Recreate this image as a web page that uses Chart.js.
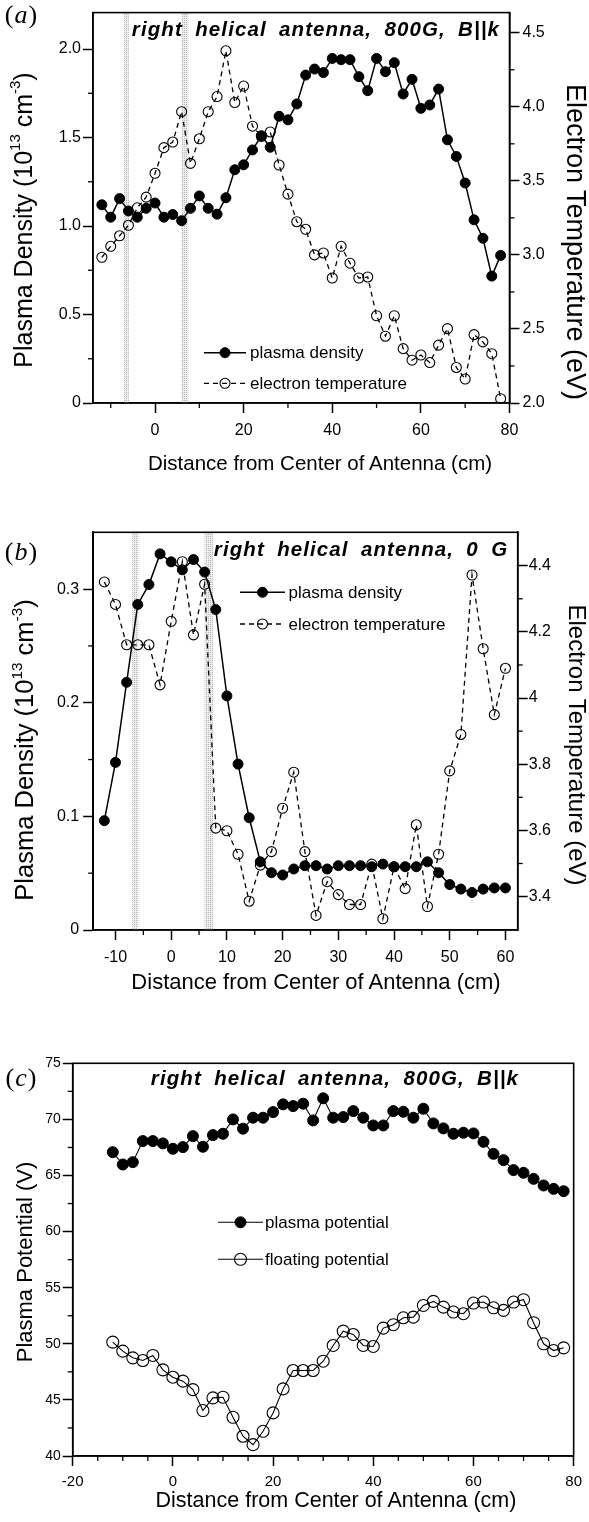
<!DOCTYPE html>
<html>
<head>
<meta charset="utf-8">
<script src="https://cdn.jsdelivr.net/npm/chart.js@4.4.1/dist/chart.umd.min.js"></script>
<style>
  html, body { margin: 0; padding: 0; background: #fff; }
  #page { position: relative; width: 589px; height: 1522px; overflow: hidden;
          font-family: "Liberation Sans", Arial, sans-serif; color: #000; }
  .panel { position: absolute; left: 0; width: 589px; }
  .txt { position: absolute; white-space: nowrap; line-height: 1; z-index: 2;
         transform: translate(-50%, -50%); }
  .rotl { transform: translate(-50%, -50%) rotate(-90deg); }
  .rotr { transform: translate(-50%, -50%) rotate(90deg); }
  .tag { font-family: "Liberation Serif", serif; font-size: 26px; letter-spacing: 1px; }
  .head { font-weight: bold; font-style: italic; font-size: 20.5px;
          letter-spacing: 1.1px; word-spacing: 5.5px; }
  sup { font-size: 0.6em; vertical-align: 0.75em; line-height: 0; }
</style>
</head>
<body>
<div id="page">
  <div class="panel" style="top:0;height:480px"><canvas id="chartA" width="589" height="480"></canvas></div>
  <div class="panel" style="top:500px;height:510px"><canvas id="chartB" width="589" height="510"></canvas></div>
  <div class="panel" style="top:1010px;height:512px"><canvas id="chartC" width="589" height="512"></canvas></div>

  <!-- panel (a) texts -->
  <div class="txt tag" style="left:21.5px;top:15px">(<i>a</i>)</div>
  <div class="txt head" style="left:316px;top:29px">right  helical  antenna,  800G,  B||k</div>
  <div class="txt rotl" style="left:22.5px;top:220px;font-size:25px">Plasma Density (10<sup>13</sup> cm<sup>-3</sup>)</div>
  <div class="txt rotr" style="left:575px;top:242px;font-size:27px">Electron Temperature (eV)</div>
  <div class="txt" style="left:320px;top:463px;font-size:20.5px">Distance from Center of Antenna (cm)</div>

  <!-- panel (b) texts -->
  <div class="txt tag" style="left:21.5px;top:552px">(<i>b</i>)</div>
  <div class="txt head" style="left:361px;top:549px">right  helical  antenna,  0  G</div>
  <div class="txt rotl" style="left:24.5px;top:750px;font-size:25.5px">Plasma Density (10<sup>13</sup> cm<sup>-3</sup>)</div>
  <div class="txt rotr" style="left:577px;top:745px;font-size:24px">Electron Temperature (eV)</div>
  <div class="txt" style="left:316px;top:982px;font-size:22px">Distance from Center of Antenna (cm)</div>

  <!-- panel (c) texts -->
  <div class="txt tag" style="left:21.5px;top:1078px">(<i>c</i>)</div>
  <div class="txt head" style="left:335px;top:1078px">right  helical  antenna,  800G,  B||k</div>
  <div class="txt rotl" style="left:25px;top:1262px;font-size:22px">Plasma Potential (V)</div>
  <div class="txt" style="left:336px;top:1501px;font-size:21.5px">Distance from Center of Antenna (cm)</div>
</div>

<script>
// ---- panel (a): 800 G, B || k ----
const aDist = [-12, -10, -8, -6, -4, -2, 0, 2, 4, 6, 8, 10, 12, 14, 16, 18, 20, 22, 24, 26, 28, 30, 32, 34,
  36, 38, 40, 42, 44, 46, 48, 50, 52, 54, 56, 58, 60, 62, 64, 66, 68, 70, 72, 74, 76, 78];
const aDensity = [1.12, 1.05, 1.155, 1.085, 1.05, 1.10, 1.13, 1.05, 1.065, 1.03, 1.10, 1.17, 1.10, 1.067,
  1.16, 1.318, 1.346, 1.43, 1.51, 1.445, 1.62, 1.60, 1.69, 1.853, 1.887, 1.867, 1.947, 1.94, 1.94, 1.844,
  1.765, 1.947, 1.872, 1.923, 1.746, 1.829, 1.665, 1.684, 1.774, 1.487, 1.393, 1.243, 1.035, 0.931, 0.717, 0.834];
const aTemp = [2.984, 3.058, 3.129, 3.2, 3.318, 3.39, 3.551, 3.724, 3.762, 3.967, 3.618, 3.784, 3.967, 4.069,
  4.378, 4.029, 4.14, 3.869, 3.80, 3.83, 3.607, 3.41, 3.224, 3.173, 3.0, 3.013, 2.844, 3.058, 2.944, 2.844,
  2.851, 2.589, 2.451, 2.589, 2.367, 2.289, 2.324, 2.273, 2.391, 2.502, 2.24, 2.162, 2.462, 2.413, 2.333, 2.029];
const aXTicks = [0, 20, 40, 60, 80];
const aXLabels = ['0', '20', '40', '60', '80'];
const aDensTicks = [0, 0.5, 1, 1.5, 2];
const aDensLabels = ['0', '0.5', '1.0', '1.5', '2.0'];
const aTempTicks = [2, 2.5, 3, 3.5, 4, 4.5];
const aTempLabels = ['2.0', '2.5', '3.0', '3.5', '4.0', '4.5'];

// ---- panel (b): 0 G ----
const bDist = [-12, -10, -8, -6, -4, -2, 0, 2, 4, 6, 8, 10, 12, 14, 16, 18, 20, 22, 24, 26, 28, 30, 32, 34,
  36, 38, 40, 42, 44, 46, 48, 50, 52, 54, 56, 58, 60];
const bDensity = [0.0962, 0.1475, 0.218, 0.2865, 0.304, 0.331, 0.324, 0.317, 0.326, 0.315, 0.282, 0.206,
  0.146, 0.0988, 0.060, 0.0504, 0.0484, 0.0537, 0.0566, 0.0566, 0.0537, 0.0566, 0.0566, 0.0566, 0.0557,
  0.058, 0.0557, 0.0557, 0.0557, 0.060, 0.0504, 0.040, 0.036, 0.033, 0.036, 0.037, 0.037];
const bTemp = [4.351, 4.283, 4.161, 4.161, 4.161, 4.04, 4.232, 4.412, 4.191, 4.344, 3.607, 3.599, 3.528,
  3.386, 3.495, 3.536, 3.667, 3.776, 3.536, 3.343, 3.445, 3.406, 3.376, 3.376, 3.498, 3.333, 3.49, 3.424,
  3.617, 3.37, 3.528, 3.78, 3.89, 4.372, 4.149, 3.95, 4.09];
const bXTicks = [-10, 0, 10, 20, 30, 40, 50, 60];
const bXLabels = ['-10', '0', '10', '20', '30', '40', '50', '60'];
const bDensTicks = [0, 0.1, 0.2, 0.3];
const bDensLabels = ['0', '0.1', '0.2', '0.3'];
const bTempTicks = [3.4, 3.6, 3.8, 4, 4.2, 4.4];
const bTempLabels = ['3.4', '3.6', '3.8', '4', '4.2', '4.4'];

// ---- panel (c): potentials ----
const cDist = [-12, -10, -8, -6, -4, -2, 0, 2, 4, 6, 8, 10, 12, 14, 16, 18, 20, 22, 24, 26, 28, 30, 32, 34,
  36, 38, 40, 42, 44, 46, 48, 50, 52, 54, 56, 58, 60, 62, 64, 66, 68, 70, 72, 74, 76, 78];
const cPlasma = [67.08, 65.98, 66.19, 68.07, 68.07, 67.86, 67.38, 67.53, 68.51, 67.56, 68.6, 68.72, 70.0,
  69.17, 70.15, 70.15, 70.65, 71.34, 71.19, 71.4, 69.91, 71.88, 70.15, 70.21, 70.74, 70.15, 69.46, 69.46,
  70.74, 70.68, 70.15, 70.95, 69.64, 69.2, 68.72, 68.81, 68.75, 68.0, 66.93, 66.37, 65.48, 65.24, 64.70,
  64.11, 63.81, 63.6];
const cFloat = [50.15, 49.35, 48.75, 48.51, 48.96, 47.68, 47.02, 46.67, 45.92, 44.05, 45.18, 45.24, 43.45,
  41.76, 41.01, 42.2, 43.84, 45.98, 47.62, 47.62, 47.62, 48.45, 49.85, 51.13, 50.83, 49.85, 49.76, 51.40,
  51.70, 52.32, 52.38, 53.42, 53.78, 53.27, 52.83, 52.68, 53.63, 53.72, 53.21, 52.98, 53.72, 53.93, 51.88,
  50.0, 49.40, 49.64];
const cXTicks = [-20, 0, 20, 40, 60, 80];
const cXLabels = ['-20', '0', '20', '40', '60', '80'];
const cPotTicks = [40, 45, 50, 55, 60, 65, 70, 75];
const cPotLabels = ['40', '45', '50', '55', '60', '65', '70', '75'];

// antenna end regions (cm), shaded
const antennaBands = [[-7.0, -5.9], [6.0, 7.5]];

const FONT = 'Liberation Sans';

function pts(xs, ys) {
  return xs.map((x, i) => ({ x: x, y: ys[i] }));
}

function axis(pos, min, max, ticks, labels, size, fontSize, pad) {
  return {
    type: 'linear', position: pos, min: min, max: max,
    afterBuildTicks: s => { s.ticks = ticks.map(v => ({ value: v })); },
    afterFit: s => { if (pos === 'bottom') s.height = size; else s.width = size; },
    ticks: {
      callback: (v, i) => labels[i],
      font: { family: FONT, size: fontSize }, color: '#000',
      padding: pad, autoSkip: false, maxRotation: 0, includeBounds: false
    },
    grid: { drawOnChartArea: false, tickLength: 10, tickWidth: 1.5, tickColor: '#000' },
    border: { color: '#000', width: 1.6 }
  };
}

// stippled grey fill for antenna bands
function stipple() {
  const c = document.createElement('canvas');
  c.width = 2; c.height = 2;
  const g = c.getContext('2d');
  g.fillStyle = '#ececec'; g.fillRect(0, 0, 2, 2);
  g.fillStyle = '#b8b8b8'; g.fillRect(0, 0, 1, 1);
  return g.createPattern(c, 'repeat');
}

const bandPlugin = {
  id: 'bands',
  beforeDatasetsDraw(chart, args, opts) {
    if (!opts.ranges) return;
    const ctx = chart.ctx, a = chart.chartArea, x = chart.scales.x;
    ctx.save();
    ctx.fillStyle = stipple();
    opts.ranges.forEach(r => {
      const l = x.getPixelForValue(r[0]), h = x.getPixelForValue(r[1]);
      ctx.fillRect(l, a.top, h - l, a.bottom - a.top);
    });
    ctx.restore();
  }
};

const framePlugin = {
  id: 'frame',
  afterDraw(chart) {
    const ctx = chart.ctx, a = chart.chartArea;
    ctx.save();
    ctx.strokeStyle = '#000';
    ctx.lineWidth = 1.6;
    ctx.strokeRect(a.left, a.top, a.right - a.left, a.bottom - a.top);
    ctx.restore();
  }
};

const minorTickPlugin = {
  id: 'minorTicks',
  afterDraw(chart, args, opts) {
    const ctx = chart.ctx, a = chart.chartArea;
    ctx.save();
    ctx.strokeStyle = '#000';
    ctx.lineWidth = 1.3;
    (opts.list || []).forEach(m => {
      const s = chart.scales[m.id];
      const majors = s.ticks.map(t => t.value);
      const k0 = Math.ceil(s.min / m.step - 1e-6), k1 = Math.floor(s.max / m.step + 1e-6);
      for (let k = k0; k <= k1; k++) {
        const v = k * m.step;
        if (majors.some(t => Math.abs(t - v) < 1e-6)) continue;
        const p = s.getPixelForValue(v);
        ctx.beginPath();
        if (s.position === 'bottom') {
          if (p < a.left + 1 || p > a.right - 1) continue;
          ctx.moveTo(p, a.bottom); ctx.lineTo(p, a.bottom + m.len);
        } else {
          if (p < a.top + 1 || p > a.bottom - 1) continue;
          if (s.position === 'left') { ctx.moveTo(a.left, p); ctx.lineTo(a.left - m.len, p); }
          else { ctx.moveTo(a.right, p); ctx.lineTo(a.right + m.len, p); }
        }
        ctx.stroke();
      }
    });
    ctx.restore();
  }
};

// legend drawn inside the plot, symbols taken from the datasets
const legendPlugin = {
  id: 'insideLegend',
  afterDatasetsDraw(chart, args, opts) {
    if (!opts.rows) return;
    const ctx = chart.ctx;
    opts.rows.forEach((y, k) => {
      const ds = chart.data.datasets[k];
      const cx = (opts.x1 + opts.x2) / 2;
      ctx.save();
      ctx.strokeStyle = '#000';
      ctx.lineWidth = ds.borderWidth;
      ctx.setLineDash(ds.borderDash || []);
      ctx.beginPath(); ctx.moveTo(opts.x1, y); ctx.lineTo(opts.x2, y); ctx.stroke();
      ctx.setLineDash([]);
      ctx.beginPath(); ctx.arc(cx, y, ds.pointRadius, 0, Math.PI * 2);
      if (ds.pointBackgroundColor === '#000') { ctx.fillStyle = '#000'; ctx.fill(); }
      ctx.lineWidth = ds.pointBorderWidth;
      ctx.stroke();
      ctx.fillStyle = '#000';
      ctx.font = opts.size + 'px "' + FONT + '"';
      ctx.textBaseline = 'middle';
      ctx.fillText(ds.label, opts.tx, y + 1);
      ctx.restore();
    });
  }
};

Chart.register(bandPlugin, framePlugin, minorTickPlugin, legendPlugin);

function filled(label, data, axisId, r, w) {
  return { label: label, data: data, yAxisID: axisId, borderColor: '#000', borderWidth: w,
    pointRadius: r, pointHoverRadius: r, pointBackgroundColor: '#000', pointBorderColor: '#000',
    pointBorderWidth: 1, tension: 0 };
}
function hollow(label, data, axisId, r, w, dash) {
  return { label: label, data: data, yAxisID: axisId, borderColor: '#000', borderWidth: w, borderDash: dash,
    pointRadius: r, pointHoverRadius: r, pointBackgroundColor: 'rgba(0,0,0,0)', pointBorderColor: '#000',
    pointBorderWidth: 1.1, tension: 0 };
}

const common = { responsive: false, animation: false, devicePixelRatio: 1, events: [] };

// (a)
new Chart(document.getElementById('chartA'), {
  type: 'line',
  data: { datasets: [
    filled('plasma density', pts(aDist, aDensity), 'y', 5, 1.5),
    hollow('electron temperature', pts(aDist, aTemp), 'y2', 5, 1.3, [5, 4])
  ] },
  options: Object.assign({}, common, {
    layout: { padding: { top: 9, left: 0, right: 0, bottom: 0 } },
    scales: {
      x: axis('bottom', -14, 80, aXTicks, aXLabels, 77, 16, 8),
      y: axis('left', 0, 2.206, aDensTicks, aDensLabels, 93, 16, 2),
      y2: axis('right', 2.0, 4.636, aTempTicks, aTempLabels, 79.5, 16, 3)
    },
    plugins: {
      legend: { display: false }, tooltip: { enabled: false },
      bands: { ranges: antennaBands },
      minorTicks: { list: [{ id: 'x', step: 10, len: 5 }, { id: 'y', step: 0.25, len: 5 }, { id: 'y2', step: 0.25, len: 5 }] },
      insideLegend: { rows: [352.7, 383.3], x1: 204, x2: 246, tx: 250, size: 17 }
    }
  })
});

// (b)
new Chart(document.getElementById('chartB'), {
  type: 'line',
  data: { datasets: [
    filled('plasma density', pts(bDist, bDensity), 'y', 5, 1.5),
    hollow('electron temperature', pts(bDist, bTemp), 'y2', 5, 1.3, [5, 4])
  ] },
  options: Object.assign({}, common, {
    layout: { padding: { top: 32.3, left: 0, right: 0, bottom: 0 } },
    scales: {
      x: axis('bottom', -14, 62.2, bXTicks, bXLabels, 80, 16, 8),
      y: axis('left', 0, 0.35, bDensTicks, bDensLabels, 93.2, 16, 4),
      y2: axis('right', 3.299, 4.501, bTempTicks, bTempLabels, 71.3, 16, 1)
    },
    plugins: {
      legend: { display: false }, tooltip: { enabled: false },
      bands: { ranges: antennaBands },
      minorTicks: { list: [{ id: 'x', step: 5, len: 5 }, { id: 'y', step: 0.05, len: 5 }, { id: 'y2', step: 0.1, len: 5 }] },
      insideLegend: { rows: [92.3, 124], x1: 240, x2: 285, tx: 288.5, size: 17 }
    }
  })
});

// (c)
new Chart(document.getElementById('chartC'), {
  type: 'line',
  data: { datasets: [
    filled('plasma potential', pts(cDist, cPlasma), 'y', 5.5, 1.1),
    hollow('floating potential', pts(cDist, cFloat), 'y', 6, 1.1, [])
  ] },
  options: Object.assign({}, common, {
    layout: { padding: { top: 53.3, left: 0, right: 13.1, bottom: 0 } },
    scales: {
      x: axis('bottom', -20, 80, cXTicks, cXLabels, 66, 15, 7),
      y: axis('left', 40, 75, cPotTicks, cPotLabels, 72.7, 14, 2)
    },
    plugins: {
      legend: { display: false }, tooltip: { enabled: false },
      minorTicks: { list: [{ id: 'x', step: 5, len: 5 }, { id: 'y', step: 2.5, len: 5 }] },
      insideLegend: { rows: [212.3, 249.3], x1: 218, x2: 263, tx: 265, size: 17 }
    }
  })
});
</script>
</body>
</html>
